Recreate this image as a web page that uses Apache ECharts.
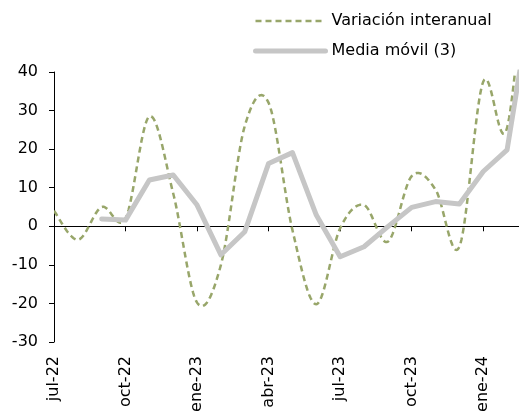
<!DOCTYPE html>
<html>
<head>
<meta charset="utf-8">
<script src="https://cdn.jsdelivr.net/npm/echarts@6/dist/echarts.min.js"></script>
<style>
html,body{margin:0;padding:0;background:#fff;}
#chart{width:519px;height:419px;}
</style>
</head>
<body>
<div id="chart"></div>
<script>
var months = ['jul-22','ago-22','sep-22','oct-22','nov-22','dic-22','ene-23','feb-23','mar-23','abr-23','may-23','jun-23','jul-23','ago-23','sep-23','oct-23','nov-23','dic-23','ene-24','feb-24','mar-24'];
var variacion = [4, -3.5, 5, 2, 28.5, 8.5, -19.8, -10, 26, 32, -1, -20.2, -0.5, 5.5, -4, 13, 9.5, -5.3, 37.5, 25.5, 85];
var mediaMovil = [null, null, 1.9, 1.6, 12.0, 13.3, 5.5, -7.4, -1.4, 16.3, 19.1, 2.9, -7.9, -5.3, -0.1, 4.9, 6.4, 5.8, 14.2, 19.8, 58];
var yTicks = {min: -30, max: 40, interval: 10};
var xView = {min: 0, max: 19.5, step: 3};

var OLIVE = '#98a66a';
var GRAY = '#c6c6c6';
var font = 'DejaVu Sans, sans-serif';

var labelIdx = months.map(function (m, i) { return i; }).filter(function (i) { return i % xView.step === 0 && i <= xView.max; });

// Excel-like smoothed line (Catmull-Rom bezier) drawn from data through api.coord
function renderSmooth(params, api) {
  if (params.dataIndex !== 0) return null;
  var pts = variacion.map(function (v, i) { return api.coord([i, v]); });
  var n = pts.length;
  var out = [pts[0].slice()];
  var steps = 24;
  for (var i = 0; i < n - 1; i++) {
    var p0 = pts[Math.max(i - 1, 0)], p1 = pts[i], p2 = pts[i + 1], p3 = pts[Math.min(i + 2, n - 1)];
    var c1 = [p1[0] + (p2[0] - p0[0]) / 6, p1[1] + (p2[1] - p0[1]) / 6];
    var c2 = [p2[0] - (p3[0] - p1[0]) / 6, p2[1] - (p3[1] - p1[1]) / 6];
    for (var s = 1; s <= steps; s++) {
      var t = s / steps, u = 1 - t;
      var a = u * u * u, b = 3 * u * u * t, c = 3 * u * t * t, d = t * t * t;
      out.push([
        a * p1[0] + b * c1[0] + c * c2[0] + d * p2[0],
        a * p1[1] + b * c1[1] + c * c2[1] + d * p2[1]
      ]);
    }
  }
  var cs = params.coordSys;
  return {
    type: 'polyline',
    shape: {points: out},
    style: {stroke: OLIVE, lineWidth: 2.5, lineDash: [6, 4], fill: null},
    clipPath: {type: 'rect', shape: {x: cs.x, y: cs.y, width: cs.width, height: cs.height}},
    silent: true
  };
}

var maData = [];
mediaMovil.forEach(function (v, i) { if (v !== null) maData.push([i, v]); });

var chart = echarts.init(document.getElementById('chart'), null, {renderer: 'canvas'});
chart.setOption({
  animation: false,
  backgroundColor: '#ffffff',
  legend: {
    orient: 'vertical',
    left: 253,
    top: 13,
    padding: 0,
    itemWidth: 70,
    itemHeight: 16,
    itemGap: 14,
    textStyle: {fontFamily: font, fontSize: 16, color: '#000', padding: [0, 0, 0, 1]},
    itemStyle: {opacity: 0},
    data: [
      {name: 'Variación interanual', lineStyle: {width: 2.5, type: [6, 4], color: OLIVE}},
      {name: 'Media móvil (3)', lineStyle: {width: 5, color: GRAY, cap: 'round'}}
    ]
  },
  grid: {left: 54, top: 72, right: 0, bottom: 77, containLabel: false},
  xAxis: [
    {
      type: 'value',
      min: xView.min,
      max: xView.max,
      interval: xView.step,
      axisLine: {show: true, onZero: true, lineStyle: {color: '#000', width: 1}},
      axisTick: {show: true, length: 5, customValues: labelIdx, lineStyle: {color: '#000'}},
      axisLabel: {show: false},
      splitLine: {show: false}
    },
    {
      type: 'value',
      min: xView.min,
      max: xView.max,
      interval: xView.step,
      position: 'bottom',
      axisLine: {show: false, onZero: false},
      axisTick: {show: false},
      axisLabel: {
        show: true, rotate: 90, margin: 14,
        customValues: labelIdx,
        showMinLabel: true, showMaxLabel: true, hideOverlap: false,
        formatter: function (v) { return months[v] || ''; },
        fontFamily: font, fontSize: 16, color: '#000'
      },
      splitLine: {show: false}
    }
  ],
  yAxis: {
    type: 'value',
    min: yTicks.min,
    max: yTicks.max,
    interval: yTicks.interval,
    axisLine: {show: true, lineStyle: {color: '#000', width: 1}},
    axisTick: {show: true, length: 5, lineStyle: {color: '#000'}},
    axisLabel: {fontFamily: font, fontSize: 16, color: '#000', margin: 16},
    splitLine: {show: false}
  },
  series: [
    {
      name: 'Variación interanual',
      type: 'line',
      data: [],
      symbol: 'none',
      lineStyle: {color: OLIVE, width: 2.5, type: [6, 4]},
      itemStyle: {color: OLIVE}
    },
    {
      name: 'Variación interanual curva',
      type: 'custom',
      xAxisIndex: 0,
      yAxisIndex: 0,
      data: variacion.map(function (v, i) { return [i, v]; }),
      encode: {x: 0, y: 1},
      renderItem: renderSmooth,
      z: 2
    },
    {
      name: 'Media móvil (3)',
      type: 'line',
      xAxisIndex: 0,
      data: maData,
      smooth: false,
      symbol: 'none',
      clip: true,
      lineStyle: {color: GRAY, width: 5, cap: 'round', join: 'round'},
      itemStyle: {color: GRAY},
      z: 3
    }
  ]
});
</script>
</body>
</html>
